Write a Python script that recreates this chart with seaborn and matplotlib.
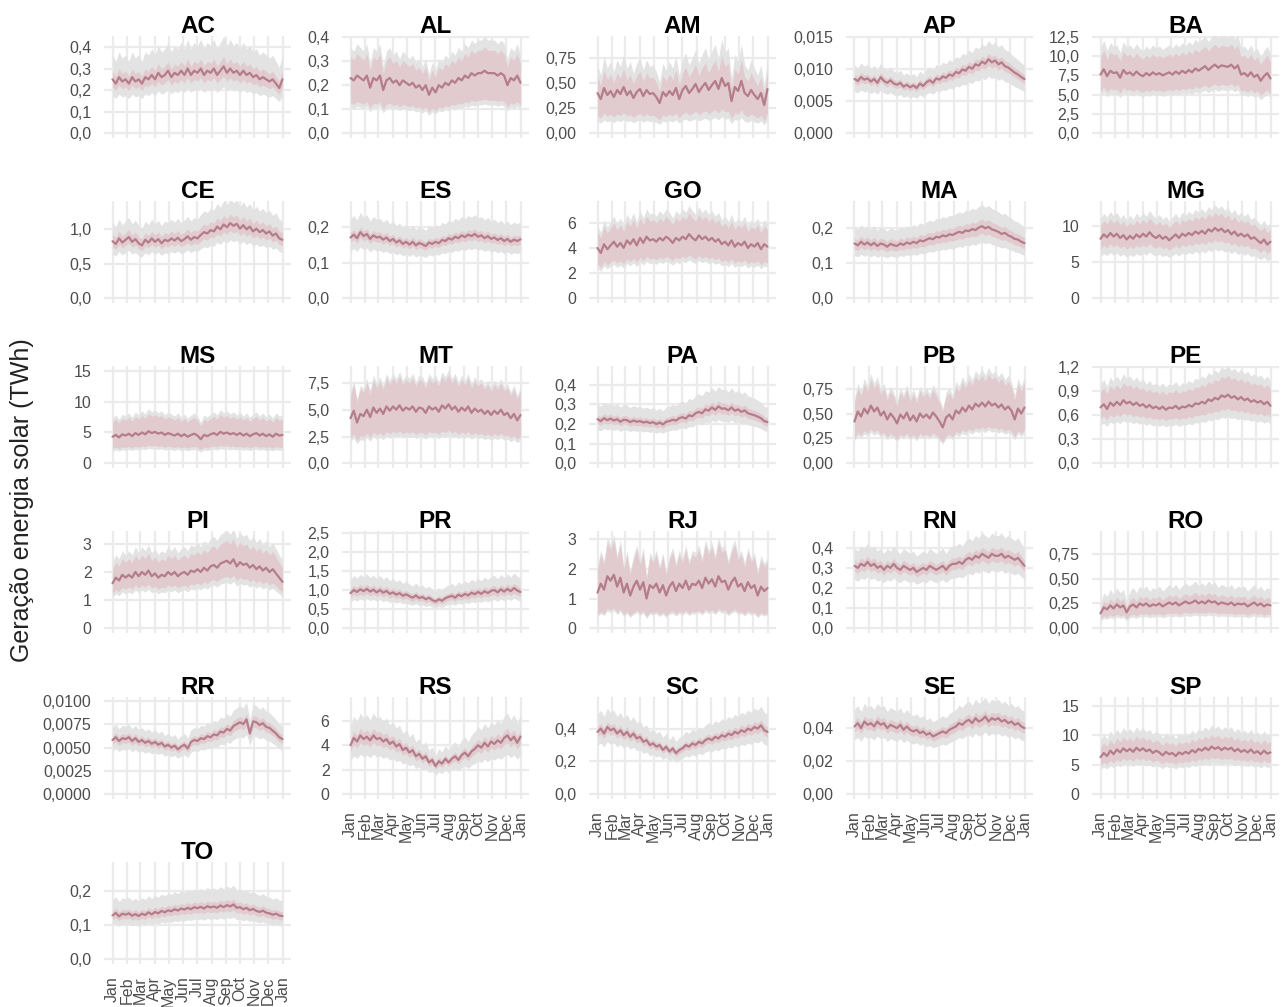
import numpy as np
import pandas as pd
import matplotlib
matplotlib.use("Agg")
import matplotlib.pyplot as plt
import seaborn as sns

# ---------------------------------------------------------------------------
# Data: weekly median of daily solar generation (TWh) per state, plus band
# widths (as multiples of the median) for the inner and outer ribbons.
# ---------------------------------------------------------------------------
states = ["AC", "AL", "AM", "AP", "BA", "CE", "ES", "GO", "MA", "MG",
          "MS", "MT", "PA", "PB", "PE", "PI", "PR", "RJ", "RN", "RO",
          "RR", "RS", "SC", "SE", "SP", "TO"]

AC = [0.25, 0.23, 0.26, 0.24, 0.25, 0.23, 0.26, 0.24, 0.25, 0.23, 0.26, 0.25, 0.27,
      0.25, 0.28, 0.26, 0.27, 0.29, 0.26, 0.28, 0.27, 0.29, 0.27, 0.30, 0.27, 0.29,
      0.28, 0.30, 0.27, 0.29, 0.28, 0.30, 0.27, 0.29, 0.31, 0.28, 0.30, 0.28, 0.29,
      0.27, 0.29, 0.27, 0.28, 0.26, 0.27, 0.25, 0.26, 0.25, 0.24, 0.25, 0.23, 0.21, 0.25]
AL = [0.23, 0.22, 0.24, 0.23, 0.22, 0.24, 0.19, 0.23, 0.22, 0.24, 0.18, 0.22, 0.23,
      0.21, 0.22, 0.20, 0.22, 0.21, 0.20, 0.21, 0.19, 0.20, 0.18, 0.20, 0.16, 0.19,
      0.17, 0.20, 0.19, 0.21, 0.20, 0.22, 0.21, 0.23, 0.22, 0.24, 0.23, 0.25, 0.24,
      0.25, 0.25, 0.26, 0.25, 0.25, 0.25, 0.24, 0.25, 0.24, 0.20, 0.23, 0.22, 0.24, 0.21]
AM = [0.40, 0.34, 0.45, 0.38, 0.42, 0.36, 0.43, 0.39, 0.46, 0.38, 0.42, 0.35, 0.41,
      0.44, 0.37, 0.43, 0.39, 0.40, 0.36, 0.30, 0.41, 0.37, 0.42, 0.38, 0.45, 0.34,
      0.43, 0.47, 0.40, 0.44, 0.49, 0.41, 0.46, 0.50, 0.43, 0.48, 0.52, 0.44, 0.55,
      0.47, 0.50, 0.32, 0.46, 0.42, 0.52, 0.40, 0.37, 0.43, 0.38, 0.34, 0.40, 0.28, 0.44]
AP = [0.0085, 0.0082, 0.0088, 0.0084, 0.0086, 0.0081, 0.0085, 0.0079, 0.0088,
      0.0082, 0.0079, 0.0083, 0.0078, 0.0076, 0.0079, 0.0073, 0.0076, 0.0072,
      0.0075, 0.0071, 0.0078, 0.0074, 0.0080, 0.0083, 0.0079, 0.0086, 0.0084,
      0.0089, 0.0087, 0.0092, 0.0090, 0.0096, 0.0094, 0.0100, 0.0098, 0.0104,
      0.0101, 0.0108, 0.0106, 0.0112, 0.0109, 0.0116, 0.0111, 0.0114, 0.0108,
      0.0111, 0.0105, 0.0103, 0.0099, 0.0095, 0.0092, 0.0088, 0.0085]
BA = [7.6, 8.3, 7.4, 8.1, 7.8, 7.9, 7.2, 8.2, 7.7, 7.9, 7.5, 8.0, 7.6,
      7.4, 7.8, 7.5, 7.9, 7.6, 7.8, 7.5, 7.7, 7.9, 7.6, 8.0, 7.7, 8.1,
      7.8, 8.2, 7.9, 8.4, 8.1, 8.4, 8.7, 8.2, 8.6, 8.9, 8.5, 8.8, 8.7,
      8.6, 8.9, 8.4, 8.8, 7.6, 7.8, 7.4, 7.9, 7.3, 7.6, 6.8, 7.4, 7.8, 7.1]
CE = [0.82, 0.78, 0.86, 0.80, 0.84, 0.88, 0.81, 0.85, 0.79, 0.76, 0.84, 0.80, 0.86,
      0.81, 0.85, 0.79, 0.84, 0.82, 0.86, 0.83, 0.87, 0.82, 0.85, 0.89, 0.84, 0.88,
      0.86, 0.91, 0.95, 0.93, 0.98, 0.96, 1.03, 0.99, 1.06, 1.02, 1.08, 1.04, 1.07,
      1.00, 1.05, 0.99, 1.03, 0.96, 1.00, 0.95, 0.98, 0.93, 0.96, 0.90, 0.93, 0.86, 0.84]
ES = [0.170, 0.178, 0.168, 0.185, 0.174, 0.180, 0.166, 0.176, 0.170, 0.172, 0.164,
      0.170, 0.160, 0.166, 0.156, 0.162, 0.152, 0.158, 0.150, 0.158, 0.148, 0.155,
      0.151, 0.146, 0.156, 0.152, 0.158, 0.154, 0.163, 0.160, 0.168, 0.164, 0.172,
      0.168, 0.176, 0.171, 0.178, 0.174, 0.180, 0.172, 0.176, 0.168, 0.174, 0.166,
      0.170, 0.163, 0.168, 0.160, 0.166, 0.158, 0.164, 0.160, 0.165]
GO = [4.0, 3.6, 4.3, 3.9, 4.2, 4.5, 4.1, 4.4, 4.0, 4.6, 4.3, 4.7, 4.2,
      4.8, 4.4, 4.9, 4.6, 4.7, 4.5, 4.8, 4.6, 4.9, 4.7, 4.4, 4.8, 4.6,
      4.9, 4.7, 5.1, 4.8, 4.6, 5.0, 4.7, 4.9, 4.6, 4.8, 4.5, 4.7, 4.3,
      4.5, 4.2, 4.6, 4.1, 4.4, 4.2, 4.5, 4.0, 4.3, 4.1, 4.4, 3.9, 4.3, 4.1]
MA = [0.155, 0.150, 0.160, 0.152, 0.158, 0.150, 0.157, 0.148, 0.155, 0.152, 0.146,
      0.154, 0.150, 0.148, 0.155, 0.151, 0.158, 0.154, 0.160, 0.156, 0.164, 0.161,
      0.166, 0.170, 0.167, 0.174, 0.172, 0.178, 0.175, 0.181, 0.179, 0.184, 0.188,
      0.185, 0.192, 0.190, 0.196, 0.193, 0.200, 0.204, 0.198, 0.202, 0.195, 0.192,
      0.188, 0.182, 0.185, 0.178, 0.174, 0.168, 0.166, 0.160, 0.156]
MG = [8.2, 8.8, 8.4, 9.0, 8.5, 8.9, 8.3, 8.7, 8.1, 8.6, 8.2, 8.8, 8.4,
      8.9, 8.5, 9.1, 8.6, 8.3, 8.7, 8.2, 8.5, 8.0, 8.4, 8.8, 8.3, 8.9,
      8.6, 9.0, 8.7, 9.2, 8.9, 9.3, 8.9, 9.5, 9.2, 9.7, 9.3, 9.6, 9.1,
      9.4, 8.8, 9.2, 8.6, 8.9, 8.5, 8.8, 8.2, 8.4, 8.0, 7.6, 8.1, 7.4, 7.8]
MS = [4.3, 4.6, 4.2, 4.7, 4.5, 4.8, 4.4, 4.9, 4.6, 5.0, 4.7, 5.2, 4.9,
      5.1, 4.8, 5.0, 4.6, 4.9, 4.7, 4.5, 4.8, 4.4, 4.7, 4.3, 4.6, 4.8,
      4.5, 3.9, 4.6, 4.4, 4.7, 4.9, 4.6, 5.1, 4.8, 5.0, 4.7, 4.9, 4.6,
      4.9, 4.5, 4.8, 4.4, 4.7, 4.9, 4.5, 4.8, 4.4, 4.7, 4.3, 4.8, 4.5, 4.6]
MT = [4.2, 4.9, 3.8, 4.6, 4.4, 5.0, 4.3, 5.2, 4.7, 5.1, 4.6, 5.3, 4.9,
      5.3, 5.0, 5.4, 4.9, 5.2, 5.0, 5.3, 4.8, 5.2, 5.1, 4.7, 5.3, 5.0,
      5.2, 4.8, 5.4, 5.1, 5.5, 5.0, 5.3, 4.8, 5.2, 4.9, 5.3, 4.7, 5.1,
      4.8, 5.0, 4.6, 4.9, 4.5, 4.9, 4.6, 5.0, 4.5, 4.7, 4.2, 4.6, 4.0, 4.5]
PA = [0.225, 0.215, 0.230, 0.220, 0.228, 0.218, 0.225, 0.212, 0.222, 0.220, 0.210,
      0.218, 0.212, 0.215, 0.208, 0.212, 0.205, 0.210, 0.200, 0.208, 0.198, 0.212,
      0.215, 0.222, 0.218, 0.230, 0.235, 0.228, 0.245, 0.240, 0.255, 0.262, 0.255,
      0.275, 0.268, 0.285, 0.272, 0.290, 0.278, 0.280, 0.270, 0.285, 0.268, 0.275,
      0.262, 0.270, 0.255, 0.250, 0.245, 0.238, 0.230, 0.215, 0.210]
PB = [0.42, 0.52, 0.47, 0.55, 0.50, 0.58, 0.52, 0.56, 0.48, 0.52, 0.44, 0.50, 0.46,
      0.40, 0.49, 0.45, 0.51, 0.43, 0.48, 0.42, 0.50, 0.46, 0.49, 0.45, 0.51, 0.47,
      0.42, 0.36, 0.46, 0.49, 0.44, 0.53, 0.50, 0.56, 0.52, 0.58, 0.54, 0.60, 0.57,
      0.61, 0.57, 0.62, 0.58, 0.60, 0.56, 0.59, 0.54, 0.57, 0.53, 0.44, 0.55, 0.50, 0.56]
PE = [0.70, 0.74, 0.68, 0.76, 0.72, 0.77, 0.73, 0.79, 0.75, 0.77, 0.73, 0.76, 0.72,
      0.74, 0.70, 0.73, 0.69, 0.71, 0.68, 0.71, 0.67, 0.70, 0.69, 0.72, 0.68, 0.71,
      0.70, 0.73, 0.71, 0.75, 0.74, 0.77, 0.75, 0.80, 0.78, 0.82, 0.80, 0.85, 0.83,
      0.86, 0.82, 0.84, 0.80, 0.83, 0.79, 0.81, 0.77, 0.79, 0.76, 0.78, 0.74, 0.77, 0.72]
PI = [1.60, 1.80, 1.70, 1.90, 1.80, 1.90, 1.80, 2.00, 1.85, 2.00, 1.90, 2.05, 1.85,
      1.95, 1.80, 1.90, 1.85, 2.00, 1.90, 2.00, 1.85, 1.95, 2.00, 1.90, 2.05, 2.00,
      2.10, 2.00, 2.15, 2.05, 2.20, 2.25, 2.15, 2.30, 2.35, 2.40, 2.30, 2.45, 2.20,
      2.35, 2.25, 2.30, 2.15, 2.25, 2.10, 2.20, 2.05, 2.15, 2.00, 2.10, 1.95, 1.80, 1.65]
PR = [0.92, 1.00, 0.95, 1.02, 0.97, 1.03, 0.96, 1.01, 0.94, 1.00, 0.93, 0.98, 0.90,
      0.94, 0.88, 0.92, 0.85, 0.89, 0.84, 0.80, 0.86, 0.79, 0.82, 0.76, 0.80, 0.74,
      0.70, 0.76, 0.72, 0.79, 0.82, 0.85, 0.80, 0.88, 0.84, 0.90, 0.86, 0.93, 0.89,
      0.95, 0.90, 0.97, 0.92, 0.98, 1.00, 0.94, 1.02, 0.96, 1.03, 0.97, 1.05, 0.99, 0.95]
RJ = [1.20, 1.50, 1.30, 1.75, 1.60, 1.80, 1.40, 1.70, 1.20, 1.50, 1.10, 1.40, 1.60,
      1.30, 1.55, 1.00, 1.45, 1.35, 1.50, 1.20, 1.45, 1.10, 1.40, 1.55, 1.25, 1.50,
      1.35, 1.60, 1.30, 1.50, 1.45, 1.60, 1.35, 1.70, 1.50, 1.65, 1.40, 1.75, 1.55,
      1.60, 1.30, 1.55, 1.70, 1.40, 1.50, 1.25, 1.55, 1.35, 1.45, 1.10, 1.40, 1.25, 1.35]
RN = [0.31, 0.30, 0.32, 0.31, 0.33, 0.31, 0.32, 0.30, 0.31, 0.29, 0.31, 0.30, 0.32,
      0.30, 0.29, 0.31, 0.30, 0.29, 0.30, 0.28, 0.29, 0.30, 0.29, 0.31, 0.30, 0.29,
      0.30, 0.31, 0.29, 0.31, 0.32, 0.32, 0.33, 0.32, 0.34, 0.35, 0.34, 0.36, 0.35,
      0.37, 0.36, 0.35, 0.37, 0.36, 0.36, 0.37, 0.35, 0.36, 0.35, 0.34, 0.35, 0.33, 0.31]
RO = [0.15, 0.21, 0.19, 0.23, 0.20, 0.24, 0.21, 0.23, 0.16, 0.22, 0.24, 0.21, 0.25,
      0.23, 0.25, 0.22, 0.24, 0.23, 0.25, 0.22, 0.24, 0.26, 0.24, 0.26, 0.23, 0.25,
      0.27, 0.25, 0.26, 0.28, 0.25, 0.27, 0.25, 0.28, 0.26, 0.27, 0.24, 0.26, 0.25,
      0.24, 0.26, 0.23, 0.25, 0.24, 0.25, 0.22, 0.24, 0.26, 0.23, 0.25, 0.22, 0.24, 0.23]
RR = [0.0058, 0.0061, 0.0057, 0.0060, 0.0059, 0.0061, 0.0057, 0.0060, 0.0056,
      0.0058, 0.0055, 0.0057, 0.0054, 0.0056, 0.0053, 0.0055, 0.0051, 0.0053,
      0.0050, 0.0052, 0.0048, 0.0051, 0.0053, 0.0049, 0.0056, 0.0058, 0.0057,
      0.0060, 0.0059, 0.0062, 0.0061, 0.0064, 0.0063, 0.0067, 0.0066, 0.0070,
      0.0068, 0.0073, 0.0075, 0.0077, 0.0075, 0.0080, 0.0065, 0.0078, 0.0077,
      0.0074, 0.0076, 0.0072, 0.0071, 0.0068, 0.0065, 0.0061, 0.0059]
RS = [4.0, 4.6, 4.3, 4.8, 4.5, 4.7, 4.4, 4.8, 4.5, 4.6, 4.3, 4.5, 4.1,
      4.3, 3.9, 4.1, 3.6, 3.8, 3.4, 3.6, 3.1, 3.3, 2.9, 3.1, 2.6, 2.8,
      2.3, 2.7, 2.5, 2.9, 2.6, 2.9, 3.1, 2.8, 3.2, 3.4, 3.1, 3.5, 3.7,
      4.0, 3.8, 4.2, 3.9, 4.3, 4.1, 4.4, 4.2, 4.6, 4.8, 4.4, 4.7, 4.2, 4.7]
SC = [0.38, 0.40, 0.37, 0.41, 0.39, 0.40, 0.37, 0.39, 0.36, 0.38, 0.35, 0.37, 0.34,
      0.35, 0.32, 0.33, 0.30, 0.31, 0.29, 0.30, 0.27, 0.29, 0.26, 0.28, 0.25, 0.27,
      0.28, 0.30, 0.29, 0.31, 0.30, 0.32, 0.31, 0.33, 0.34, 0.33, 0.35, 0.34, 0.36,
      0.35, 0.37, 0.36, 0.38, 0.37, 0.39, 0.38, 0.40, 0.39, 0.41, 0.40, 0.42, 0.39, 0.38]
SE = [0.041, 0.043, 0.040, 0.044, 0.042, 0.043, 0.041, 0.044, 0.042, 0.043, 0.040,
      0.042, 0.041, 0.040, 0.042, 0.039, 0.041, 0.039, 0.038, 0.039, 0.037, 0.038,
      0.036, 0.037, 0.035, 0.036, 0.037, 0.038, 0.037, 0.039, 0.040, 0.041, 0.043,
      0.042, 0.044, 0.045, 0.043, 0.046, 0.044, 0.045, 0.047, 0.044, 0.046, 0.045,
      0.046, 0.044, 0.045, 0.043, 0.044, 0.042, 0.043, 0.041, 0.040]
SP = [6.3, 7.0, 6.5, 7.4, 6.8, 7.6, 7.1, 7.8, 7.3, 7.7, 7.2, 7.9, 7.4,
      7.8, 7.3, 7.6, 7.0, 7.4, 7.1, 6.6, 7.2, 6.8, 7.0, 6.5, 7.1, 6.8,
      7.2, 6.9, 7.5, 7.1, 7.7, 7.4, 7.9, 7.5, 8.1, 7.7, 8.0, 7.5, 7.9,
      7.6, 7.9, 7.3, 7.7, 7.2, 7.5, 7.1, 7.6, 7.0, 7.3, 6.8, 7.4, 6.9, 7.1]
TO = [0.128, 0.135, 0.125, 0.133, 0.130, 0.134, 0.127, 0.132, 0.126, 0.133, 0.129,
      0.137, 0.131, 0.138, 0.134, 0.141, 0.137, 0.143, 0.140, 0.146, 0.142, 0.148,
      0.145, 0.150, 0.146, 0.152, 0.149, 0.153, 0.148, 0.155, 0.151, 0.154, 0.150,
      0.157, 0.152, 0.158, 0.154, 0.160, 0.150, 0.152, 0.146, 0.150, 0.143, 0.147,
      0.141, 0.138, 0.142, 0.136, 0.134, 0.130, 0.133, 0.128, 0.126]

# band multipliers relative to the median (state order as in `states`)
inner_lo = [0.86, 0.55, 0.45, 0.92, 0.72, 0.90, 0.92, 0.68, 0.90, 0.83,
            0.57, 0.56, 0.90, 0.60, 0.80, 0.77, 0.88, 0.38, 0.91, 0.60,
            0.92, 0.88, 0.92, 0.92, 0.78, 0.90]
inner_hi = [1.15, 1.38, 1.40, 1.08, 1.30, 1.12, 1.08, 1.33, 1.10, 1.22,
            1.55, 1.50, 1.10, 1.45, 1.28, 1.30, 1.12, 1.65, 1.09, 1.30,
            1.08, 1.12, 1.08, 1.08, 1.25, 1.10]
outer_lo = [0.70, 0.47, 0.30, 0.77, 0.64, 0.78, 0.78, 0.60, 0.78, 0.70,
            0.47, 0.48, 0.77, 0.54, 0.68, 0.68, 0.75, 0.33, 0.78, 0.48,
            0.80, 0.68, 0.78, 0.80, 0.66, 0.77]
outer_hi = [1.45, 1.55, 1.70, 1.25, 1.45, 1.32, 1.30, 1.45, 1.30, 1.33,
            1.70, 1.58, 1.35, 1.55, 1.42, 1.45, 1.38, 1.75, 1.28, 1.70,
            1.23, 1.38, 1.28, 1.25, 1.45, 1.35]

# upper end of each free y scale and its break step
y_top = [0.429, 0.385, 0.92, 0.0145, 12.0, 1.33, 0.259, 7.36, 0.262, 12.76,
         15.0, 8.63, 0.472, 0.93, 1.16, 3.29, 2.42, 3.11, 0.46, 0.93,
         0.0099, 7.55, 0.564, 0.056, 15.7, 0.27]
y_step = [0.1, 0.1, 0.25, 0.005, 2.5, 0.5, 0.1, 2, 0.1, 5,
          5, 2.5, 0.1, 0.25, 0.3, 1, 0.5, 1, 0.1, 0.25,
          0.0025, 2, 0.2, 0.02, 5, 0.1]

month_labels = ["Jan", "Feb", "Mar", "Apr", "May", "Jun", "Jul",
                "Aug", "Sep", "Oct", "Nov", "Dec", "Jan"]
month_days = [0, 31, 59, 90, 120, 151, 181, 212, 243, 273, 304, 334, 365]

series = {"AC": AC, "AL": AL, "AM": AM, "AP": AP, "BA": BA, "CE": CE,
          "ES": ES, "GO": GO, "MA": MA, "MG": MG, "MS": MS, "MT": MT,
          "PA": PA, "PB": PB, "PE": PE, "PI": PI, "PR": PR, "RJ": RJ,
          "RN": RN, "RO": RO, "RR": RR, "RS": RS, "SC": SC, "SE": SE,
          "SP": SP, "TO": TO}
days = np.minimum(np.arange(53) * 7, 364)

rows = []
for i, st in enumerate(states):
    med = np.array(series[st], dtype=float)
    for d, m in zip(days, med):
        rows.append({"estado": st, "dia": d, "mediana": m,
                     "in_lo": m * inner_lo[i], "in_hi": m * inner_hi[i],
                     "out_lo": m * outer_lo[i], "out_hi": m * outer_hi[i]})
df = pd.DataFrame(rows)

# ---------------------------------------------------------------------------
# Styling
# ---------------------------------------------------------------------------
sns.set_theme(style="white")
plt.rcParams["font.family"] = ["Liberation Sans", "DejaVu Sans"]

LINE = "#b47d89"
INNER = "#e2cbcf"
OUTER = "#e3e3e3"
GRID = "#ebebeb"
TICK = "#4d4d4d"

W, H = 1287, 1007
fig = plt.figure(figsize=(W / 100, H / 100), dpi=100)
fig.patch.set_facecolor("white")

col_left = [104, 342, 589, 846, 1092]
row_top = [36, 201, 366, 531, 697, 862]
pw, ph = 187, 102


def fmt(v, step):
    s = f"{step:.10f}".rstrip("0")
    dec = len(s.split(".")[1]) if "." in s else 0
    return f"{v:.{dec}f}".replace(".", ",")


n = len(states)
for k, st in enumerate(states):
    r, c = divmod(k, 5)
    ax = fig.add_axes([col_left[c] / W, 1 - (row_top[r] + ph) / H, pw / W, ph / H])
    sub = df[df["estado"] == st]

    ax.fill_between(sub["dia"], sub["out_lo"], sub["out_hi"], color=OUTER,
                    linewidth=0, zorder=2)
    ax.fill_between(sub["dia"], sub["in_lo"], sub["in_hi"], color=INNER,
                    linewidth=0, zorder=3)
    sns.lineplot(data=sub, x="dia", y="mediana", ax=ax, color=LINE,
                 linewidth=1.6, zorder=4)

    top = y_top[k]
    ax.set_ylim(-0.05 * top, 1.05 * top)
    ax.set_xlim(-0.05 * 364, 364 * 1.05)

    step = y_step[k]
    ticks = []
    t = 0.0
    while t <= 1.05 * top + 1e-12:
        ticks.append(t)
        t = round(t + step, 10)
    ax.set_yticks(ticks)
    ax.set_yticklabels([fmt(v, step) for v in ticks])

    ax.set_xticks(month_days)
    if k + 5 >= n:
        ax.set_xticklabels(month_labels, rotation=90, va="top", ha="center")
    else:
        ax.set_xticklabels([])

    ax.grid(True, color=GRID, linewidth=1.6)
    ax.set_axisbelow(True)
    for sp in ax.spines.values():
        sp.set_visible(False)
    ax.tick_params(axis="both", length=0, labelsize=11.5, labelcolor=TICK)
    ax.tick_params(axis="y", pad=9)
    ax.tick_params(axis="x", pad=9)
    ax.set_xlabel("")
    ax.set_ylabel("")
    ax.set_title(st, fontsize=17.5, fontweight="bold", color="black",
                 y=1.0, pad=2)

fig.text(22 / W, 1 - 500 / H, "Geração energia solar (TWh)", rotation=90,
         ha="center", va="center", fontsize=18, color="#222222")

fig.savefig("out.png", dpi=100, facecolor="white")
